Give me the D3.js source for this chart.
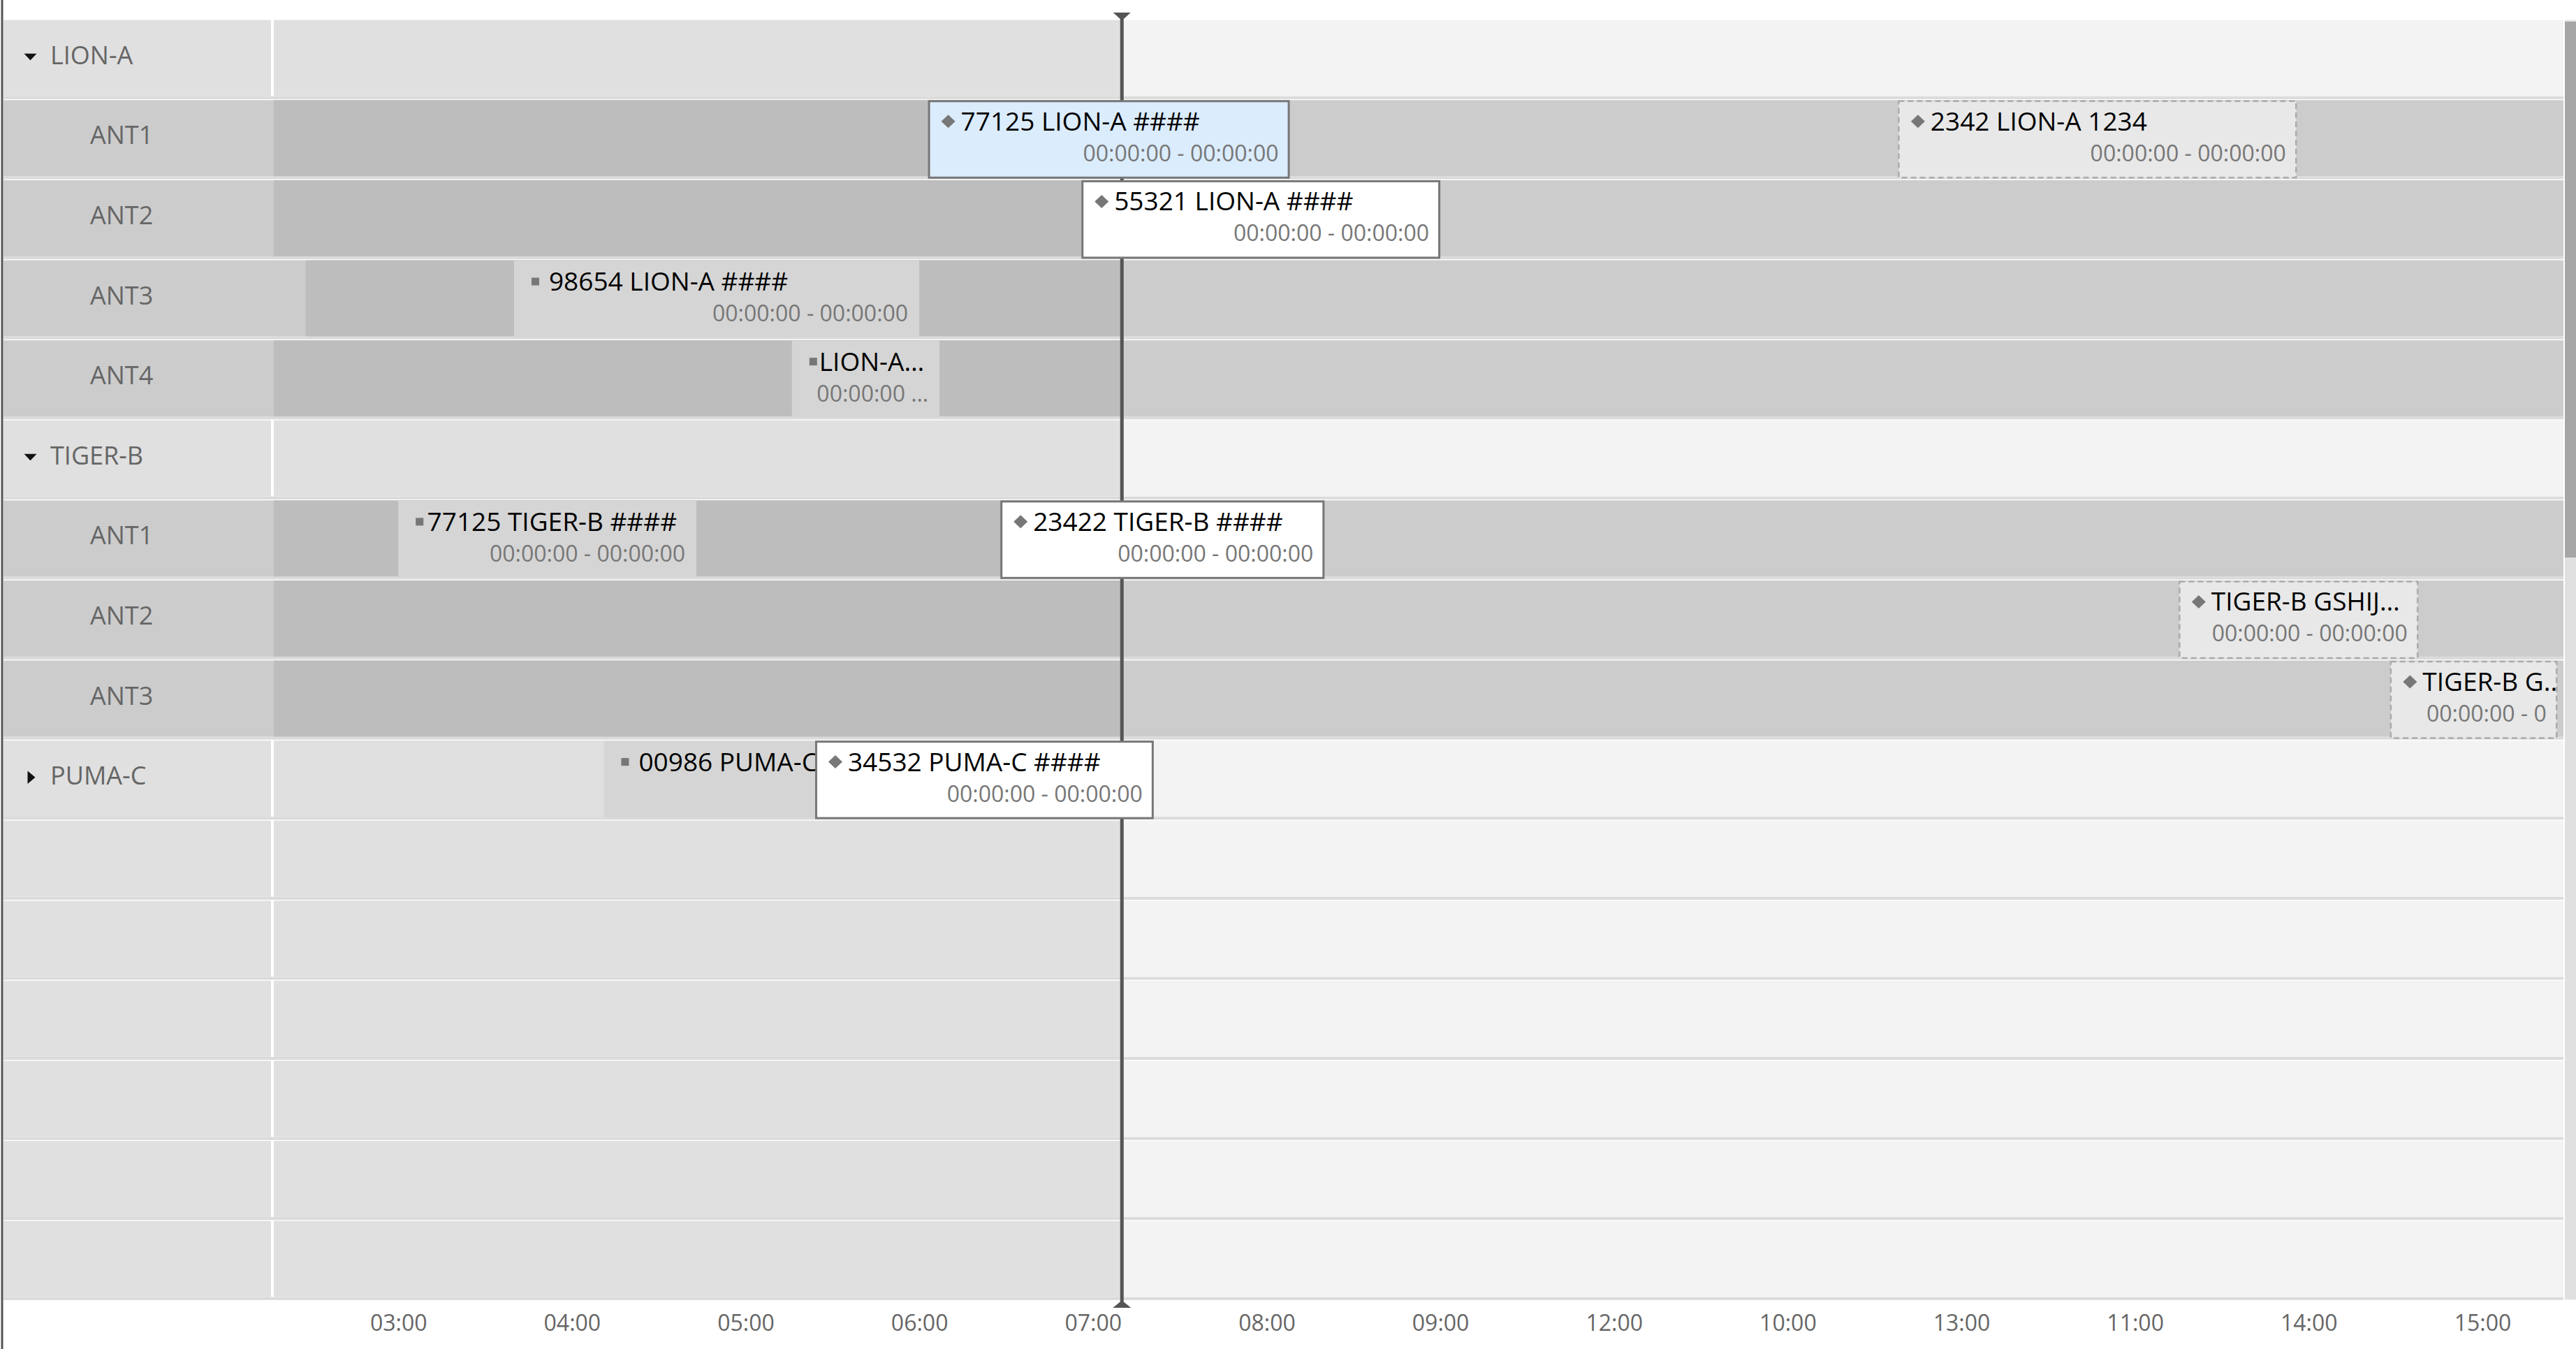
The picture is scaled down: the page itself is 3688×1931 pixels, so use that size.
<!DOCTYPE html>
<html>
<head>
  <title>timeline</title>
  <script src="https://d3js.org/d3.v7.min.js"></script>
  <style>
    body { margin: 0; background: #fff; }
    svg { display: block; font-family: "Open Sans", sans-serif; }
  </style>
</head>
<body>
<div id="chart"></div>
<script>
// rows, top to bottom
var rowIds    = ["LION-A", "LION-A/ANT1", "LION-A/ANT2", "LION-A/ANT3", "LION-A/ANT4",
                 "TIGER-B", "TIGER-B/ANT1", "TIGER-B/ANT2", "TIGER-B/ANT3", "PUMA-C",
                 "e1", "e2", "e3", "e4", "e5", "e6"];
var rowLabels = ["LION-A", "ANT1", "ANT2", "ANT3", "ANT4",
                 "TIGER-B", "ANT1", "ANT2", "ANT3", "PUMA-C",
                 "", "", "", "", "", ""];
var rowKinds  = ["open", "child", "child", "child", "child",
                 "open", "child", "child", "child", "closed",
                 "empty", "empty", "empty", "empty", "empty", "empty"];
// where the dark "past" band starts in a row (null = start of view)
var rowPastFrom = [null, null, null, "02:28", null, null, null, null, null, null,
                   null, null, null, null, null, null];

// events
var eventRows   = ["LION-A/ANT1", "LION-A/ANT1", "LION-A/ANT2", "LION-A/ANT3", "LION-A/ANT4",
                   "TIGER-B/ANT1", "TIGER-B/ANT1", "TIGER-B/ANT2", "TIGER-B/ANT3",
                   "PUMA-C", "PUMA-C"];
var eventTitles = ["77125 LION-A ####", "2342 LION-A 1234", "55321 LION-A ####", "98654 LION-A ####", "LION-A\u2026",
                   "77125 TIGER-B ####", "23422 TIGER-B ####", "TIGER-B GSHIJ\u2026", "TIGER-B G..",
                   "00986 PUMA-C", "34532 PUMA-C ####"];
// the 00986 time text sits under the 34532 box and is not visible
var eventSubs   = ["00:00:00 - 00:00:00", "00:00:00 - 00:00:00", "00:00:00 - 00:00:00", "00:00:00 - 00:00:00", "00:00:00 \u2026",
                   "00:00:00 - 00:00:00", "00:00:00 - 00:00:00", "00:00:00 - 00:00:00", "00:00:00 - 0",
                   "", "00:00:00 - 00:00:00"];
var eventStart  = ["06:03", "11:38", "06:56", "03:40", "05:16", "03:00", "06:28", "13:15", "14:28", "04:11", "05:24"];
var eventEnd    = ["08:08", "13:56", "09:00", "06:00", "06:07", "04:43", "08:20", "14:38", "15:26", "06:45", "07:21"];
var eventState  = ["selected", "planned", "active", "done", "done", "done", "active", "planned", "planned", "done", "active"];

// axis
var tickTimes  = ["03:00", "04:00", "05:00", "06:00", "07:00", "08:00", "09:00", "10:00", "11:00", "12:00", "13:00", "14:00", "15:00"];
var tickLabels = ["03:00", "04:00", "05:00", "06:00", "07:00", "08:00", "09:00", "12:00", "10:00", "13:00", "11:00", "14:00", "15:00"];
var viewFrom = "02:17", viewTo = "15:28", nowTime = "07:10";

var W = 3688, H = 1931;
var labelW = 392, chartR = 3670;
var parse = d3.timeParse("%H:%M");

var x = d3.scaleTime()
  .domain([parse(viewFrom), parse(viewTo)])
  .range([labelW, chartR]);

var y = d3.scaleBand()
  .domain(rowIds)
  .range([28.7, 28.7 + rowIds.length * 114.6]);

var rowH = y.bandwidth();
var fillH = rowH - 5.6;

var svg = d3.select("#chart").append("svg")
  .attr("width", W).attr("height", H);

var rows = rowIds.map(function (id, i) {
  return { id: id, label: rowLabels[i], kind: rowKinds[i], pastFrom: rowPastFrom[i] };
});

var rowG = svg.append("g").selectAll("g")
  .data(rows).enter().append("g")
  .attr("transform", function (d) { return "translate(0," + y(d.id) + ")"; });

// separator band under every row
rowG.append("rect")
  .attr("x", 5).attr("y", fillH).attr("width", chartR - 5).attr("height", 4.2)
  .attr("fill", "#dbdbdb");

// label cell
rowG.append("rect")
  .attr("x", 5).attr("y", 0)
  .attr("width", function (d) { return d.kind == "child" ? labelW - 5 : labelW - 9; })
  .attr("height", fillH)
  .attr("fill", function (d) { return d.kind == "child" ? "#cccccc" : "#e0e0e0"; });

// future part
rowG.append("rect")
  .attr("x", labelW).attr("y", 0).attr("width", chartR - labelW).attr("height", fillH)
  .attr("fill", function (d) { return d.kind == "child" ? "#cccccc" : "#f3f3f3"; });

// past part
rowG.append("rect")
  .attr("x", function (d) { return d.pastFrom ? x(parse(d.pastFrom)) : labelW; })
  .attr("y", 0)
  .attr("width", function (d) { return x(parse(nowTime)) - (d.pastFrom ? x(parse(d.pastFrom)) : labelW); })
  .attr("height", fillH)
  .attr("fill", function (d) { return d.kind == "child" ? "#bdbdbd" : "#e0e0e0"; });

// labels
rowG.append("text")
  .attr("x", function (d) { return d.kind == "child" ? 129 : 72; })
  .attr("y", 63)
  .attr("font-size", 36)
  .attr("fill", "#666")
  .text(function (d) { return d.label; });

rowG.filter(function (d) { return d.kind == "open"; }).append("path")
  .attr("d", "M34.5,48 L52.5,48 L43.5,57.5 Z").attr("fill", "#111");
rowG.filter(function (d) { return d.kind == "closed"; }).append("path")
  .attr("d", "M39.5,43.5 L50.5,52.7 L39.5,62 Z").attr("fill", "#111");

// now line (under the events)
var nx = x(parse(nowTime));
svg.append("line")
  .attr("x1", nx).attr("x2", nx).attr("y1", 20).attr("y2", 1870)
  .attr("stroke", "#555").attr("stroke-width", 5);

// events
var events = eventRows.map(function (r, i) {
  return { row: r, title: eventTitles[i], sub: eventSubs[i],
           t0: parse(eventStart[i]), t1: parse(eventEnd[i]), state: eventState[i] };
});
function bw(d) { return x(d.t1) - x(d.t0); }

var evG = svg.append("g").selectAll("g")
  .data(events).enter().append("g")
  .attr("transform", function (d) { return "translate(" + x(d.t0) + "," + y(d.row) + ")"; });

evG.append("clipPath")
  .attr("id", function (d, i) { return "clip" + i; })
  .append("rect")
  .attr("x", 0).attr("y", 0)
  .attr("width", bw)
  .attr("height", rowH);

var fills = { selected: "#dbecfd", active: "#ffffff", planned: "#e8e8e8", done: "#d5d5d5" };

evG.append("rect")
  .attr("x", function (d) { return d.state == "done" ? 0 : 1.5; })
  .attr("y", function (d) { return d.state == "done" ? 0.5 : 1.5; })
  .attr("width", function (d) { return bw(d) - (d.state == "done" ? 0 : 3); })
  .attr("height", function (d) { return d.state == "done" ? 110 : 109.5; })
  .attr("fill", function (d) { return fills[d.state]; })
  .attr("stroke", function (d) {
    return d.state == "done" ? "none" : (d.state == "planned" ? "#ababab" : "#777");
  })
  .attr("stroke-width", function (d) { return d.state == "planned" ? 2.5 : 3; })
  .attr("stroke-dasharray", function (d) { return d.state == "planned" ? "8,5" : null; });

var inner = evG.append("g")
  .attr("clip-path", function (d, i) { return "url(#clip" + i + ")"; });

inner.filter(function (d) { return d.state != "done"; }).append("path")
  .attr("d", "M29,21 L39,30.5 L29,40 L19,30.5 Z")
  .attr("fill", "#777");
inner.filter(function (d) { return d.state == "done"; }).append("rect")
  .attr("x", 25).attr("y", 25)
  .attr("width", 11).attr("height", 11)
  .attr("fill", "#777");

var titles = inner.append("text")
  .attr("y", 43.5)
  .attr("font-size", 37)
  .attr("fill", "#000")
  .text(function (d) { return d.title; });

// square-marked items pull the title towards the marker when tight
titles.each(function (d) {
  var len = this.getComputedTextLength();
  var tx = d.state == "done" ? Math.max(39, Math.min(50, bw(d) - 28 - len)) : 47;
  d3.select(this).attr("x", tx);
});

inner.filter(function (d) { return d.sub; }).append("text")
  .attr("x", function (d) { return bw(d) - 16; })
  .attr("y", 87.5)
  .attr("text-anchor", "end")
  .attr("font-size", 32)
  .attr("fill", "#777")
  .text(function (d) { return d.sub; });

// now markers on top
svg.append("path")
  .attr("d", "M" + (nx - 12.5) + ",18 L" + (nx + 12.5) + ",18 L" + nx + ",29.5 Z")
  .attr("fill", "#555");
svg.append("path")
  .attr("d", "M" + (nx - 13) + ",1872 L" + (nx + 13) + ",1872 L" + nx + ",1861.5 Z")
  .attr("fill", "#555");

// time axis
var axis = d3.axisBottom(x)
  .tickValues(tickTimes.map(parse))
  .tickFormat(function (d, i) { return tickLabels[i]; })
  .tickSize(0)
  .tickPadding(20);

var ax = svg.append("g")
  .attr("transform", "translate(0," + (28.7 + rowIds.length * 114.6) + ")")
  .call(axis);
ax.select(".domain").remove();
ax.selectAll("text")
  .attr("font-family", "Open Sans")
  .attr("font-size", 32)
  .attr("fill", "#666");

// scrollbar
svg.append("rect")
  .attr("x", 3672).attr("y", 28.7).attr("width", 16).attr("height", rowIds.length * 114.6 - 2)
  .attr("fill", "#e0e0e0");
svg.append("rect")
  .attr("x", 3672).attr("y", 31).attr("width", 16).attr("height", 767)
  .attr("fill", "#a6a6a6");

// left border
svg.append("rect")
  .attr("x", 1.5).attr("y", 0).attr("width", 3).attr("height", H)
  .attr("fill", "#555");
</script>
</body>
</html>
